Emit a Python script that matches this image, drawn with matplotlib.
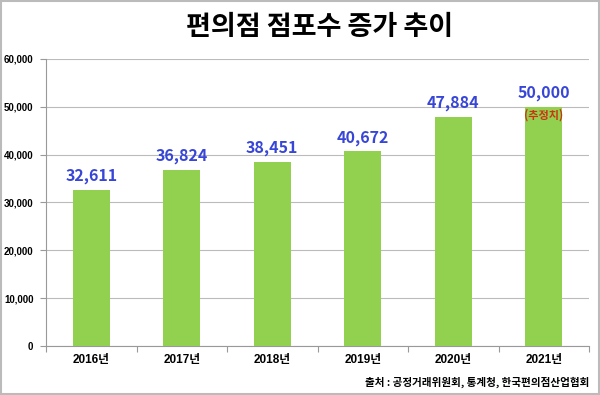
import matplotlib
matplotlib.use("Agg")
import matplotlib.pyplot as plt
from matplotlib.patches import Rectangle
from matplotlib.ticker import FuncFormatter

plt.rcParams['font.family'] = ['Noto Sans CJK KR', 'DejaVu Sans']
NUM_FONT = ['Liberation Sans', 'Noto Sans CJK KR']

years = ["2016년", "2017년", "2018년", "2019년", "2020년", "2021년"]
stores = [32611, 36824, 38451, 40672, 47884, 50000]
estimate_note = "(추정치)"
title = "편의점 점포수 증가 추이"
source = "출처 : 공정거래위원회, 통계청, 한국편의점산업협회"

fig = plt.figure(figsize=(6, 3.95), dpi=100)
ax = fig.add_axes([46 / 600, 1 - 346 / 395, 543 / 600, 287 / 395])

x = range(len(years))
ax.bar(x, stores, width=0.41, color="#92D050", zorder=3)
ax.set_xlim(-0.5, len(years) - 0.5)
ax.set_ylim(0, 60000)
ax.set_yticks(range(0, 60001, 10000))
ax.yaxis.set_major_formatter(FuncFormatter(lambda v, p: f"{int(v):,}"))
ax.grid(axis="y", color="#BBBBBB", lw=0.8, zorder=0)

# category boundary ticks on x, labels centred
ax.set_xticks([i - 0.5 for i in range(len(years) + 1)])
ax.set_xticklabels([])
ax.set_xticks(list(x), minor=True)
ax.set_xticklabels(years, minor=True, fontsize=8.5, fontweight="bold", family=NUM_FONT)
ax.tick_params(axis="x", which="minor", length=0, pad=6)
ax.tick_params(axis="x", which="major", length=4, color="#999999")
ax.tick_params(axis="y", length=4, color="#999999", pad=5)
for lbl in ax.get_yticklabels():
    lbl.set_fontweight("bold")
    lbl.set_family(NUM_FONT)
    lbl.set_fontsize(7)

for s in ("top", "right"):
    ax.spines[s].set_visible(False)
for s in ("left", "bottom"):
    ax.spines[s].set_color("#999999")

for i, v in enumerate(stores):
    ax.annotate(f"{v:,}", (i, v), xytext=(0, 10), textcoords="offset points",
                ha="center", va="center", fontsize=11.5, fontweight="bold",
                color="#3846D8", zorder=5)
ax.annotate(estimate_note, (len(stores) - 1, stores[-1]), xytext=(0, -6),
            textcoords="offset points", ha="center", va="center",
            fontsize=8, fontweight="bold", color="#CC3311", zorder=5)

fig.text(320 / 600, 1 - 27 / 395, title, ha="center", va="center",
         fontsize=19.5, fontweight="bold")
fig.text(589 / 600, 1 - 382 / 395, source, ha="right", va="center",
         fontsize=7.6, fontweight="bold")

fig.patches.append(Rectangle((0.002, 0.003), 0.996, 0.994, transform=fig.transFigure,
                             fill=False, edgecolor="#BBBBBB", lw=1.5))

fig.savefig("out.png", dpi=100)
